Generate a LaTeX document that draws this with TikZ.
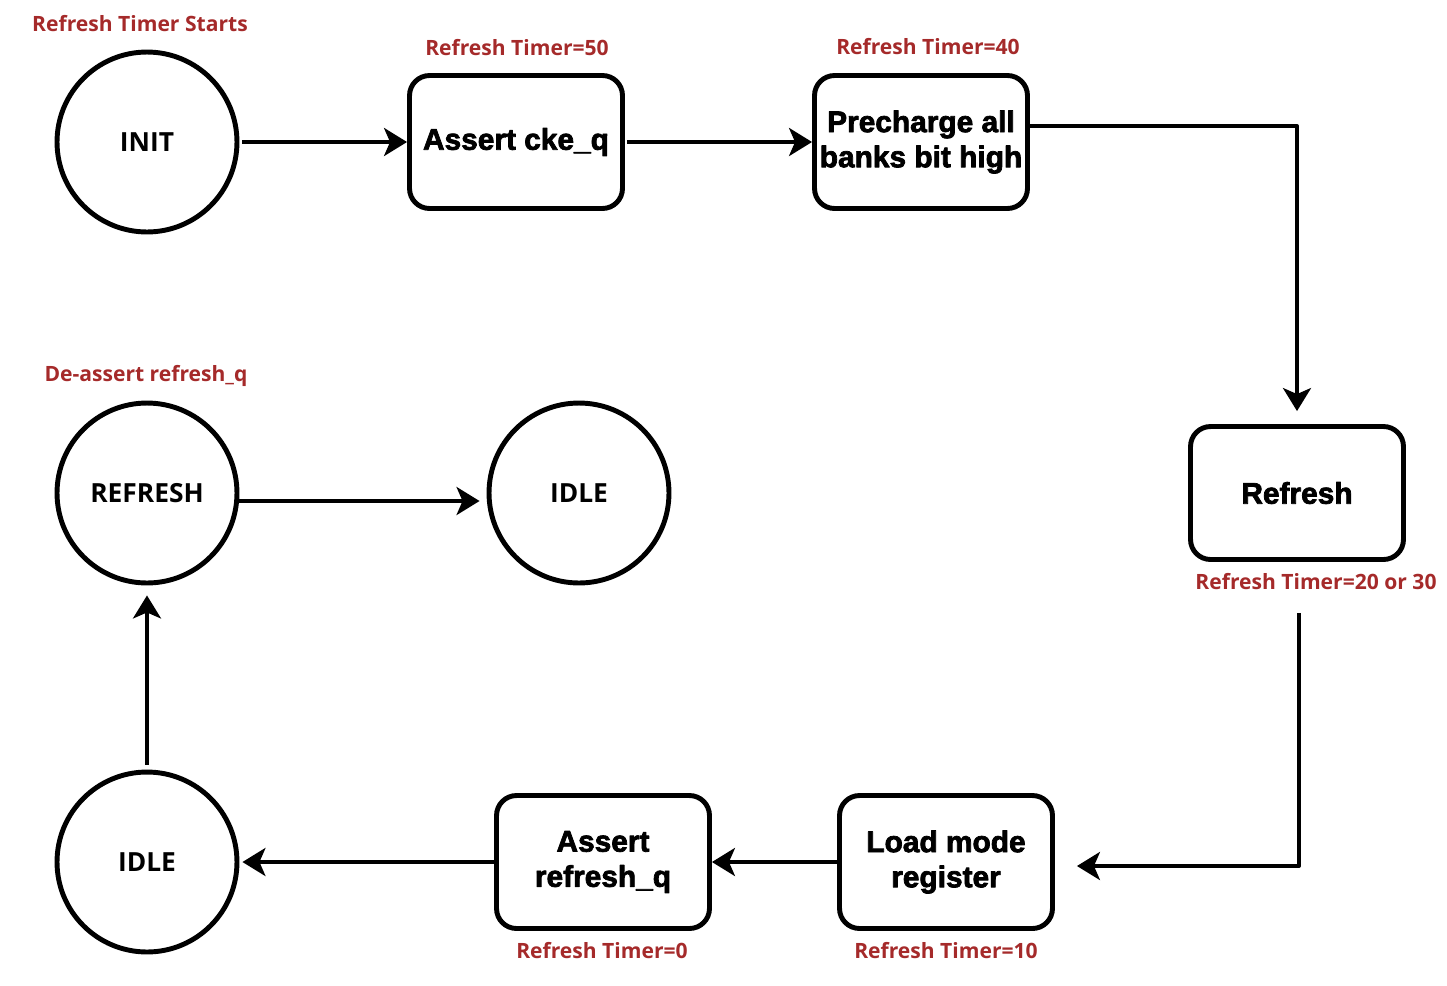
\documentclass[tikz,border=0pt]{standalone}
\usepackage{fontspec}
\setmainfont{Open Sans}
\newfontfamily\boxfont{Liberation Sans}[BoldFeatures={FakeBold=2.5}]
\usetikzlibrary{arrows.meta}
\definecolor{timered}{RGB}{165,42,42}

\begin{document}
\begin{tikzpicture}[x=0.02cm, y=-0.02cm, line join=round,
        state/.style={circle, draw, line width=2.8pt, minimum size=3.6cm, inner sep=0pt,
                      font=\fontsize{15}{18}\selectfont\bfseries},
        box/.style={rectangle, rounded corners=0.4cm, draw, line width=2.8pt,
                    minimum width=4.26cm, minimum height=2.66cm, inner sep=1pt, align=center,
                    font=\boxfont\fontsize{17}{20}\selectfont\bfseries},
        timer/.style={text=timered, font=\fontsize{12}{14}\selectfont\bfseries},
        flow/.style={-{Stealth[length=0.46cm, width=0.56cm, inset=0.12cm]}, line width=2.2pt}
    ]
        \useasboundingbox (0,0) rectangle (1447,985);

        % states and steps
        \node[state] (init)  at (147,142) {INIT};
        \node[box]   (ack)   at (516,142) {Assert cke\_q};
        \node[box]   (pre)   at (921,142) {Precharge all\\banks bit high};
        \node[box]   (ref)   at (1297,493) {Refresh};
        \node[box]   (lmr)   at (946,862) {Load mode\\register};
        \node[box]   (arq)   at (603,862) {Assert\\refresh\_q};
        \node[state] (idleb) at (147,862) {IDLE};
        \node[state] (refr)  at (147,493) {REFRESH};
        \node[state] (idlem) at (579,493) {IDLE};

        % timer notes
        \node[timer] (tstart) at (140,24)  {Refresh Timer Starts};
        \node[timer] (t50)    at (517,48)  {Refresh Timer=50};
        \node[timer] (t40)    at (928,47)  {Refresh Timer=40};
        \node[timer] (t2030)  at (1316,582) {Refresh Timer=20 or 30};
        \node[timer] (t10)    at (946,951) {Refresh Timer=10};
        \node[timer] (t0)     at (602,951) {Refresh Timer=0};
        \node[timer] (tdeas)  at (146,376) {De-assert refresh\_q};

        % transitions
        \draw[flow, shorten <=0.06cm] (init) -- (ack);
        \draw[flow, shorten <=0.04cm] (ack) -- (pre);
        \draw[flow, shorten >=0.26cm] ([yshift=0.32cm]pre.east) -| (ref.north);
        \draw[flow, shorten <=1.02cm, shorten >=0.44cm]
            ([xshift=0.04cm]ref.south) |- ([yshift=-0.08cm]lmr.east);
        \draw[flow] (lmr) -- (arq);
        \draw[flow, shorten >=0.06cm] (arq) -- (idleb);
        \draw[flow, shorten <=0.1cm, shorten >=0.2cm] (idleb) -- (refr);
        \draw[flow, shorten >=0.14cm] ([yshift=-0.16cm]refr.east) -- ([yshift=-0.16cm]idlem.west);
    \end{tikzpicture}
\end{document}
